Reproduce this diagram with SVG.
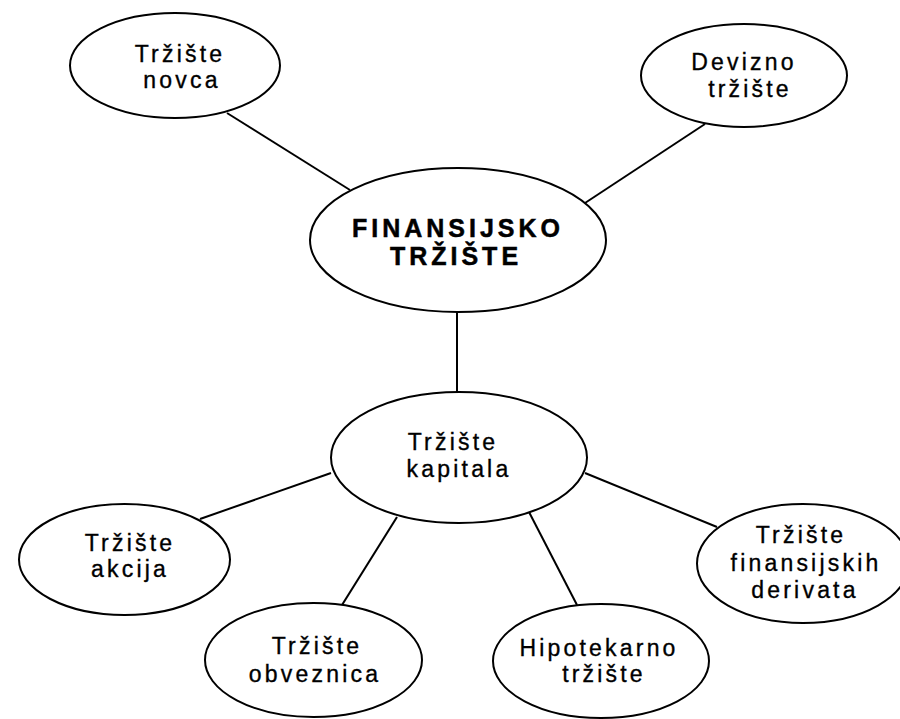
<svg xmlns="http://www.w3.org/2000/svg" width="900" height="719" viewBox="0 0 900 719">
<style>
.n ellipse{fill:#fff;stroke:#000;stroke-width:2}
.c line{stroke:#000;stroke-width:2}
text{font-family:"Liberation Sans",Arial,sans-serif;font-size:23px;fill:#000;stroke:#000;stroke-width:0.35;text-anchor:middle;letter-spacing:3.2px}
.b{font-size:25px;font-weight:bold;letter-spacing:4px;stroke-width:0.5}
</style>
<rect width="900" height="719" fill="#fff"/>
<g id="connectors" class="c">
<line x1="227" y1="113" x2="350" y2="190"/>
<line x1="705" y1="124" x2="585" y2="203"/>
<line x1="457" y1="312" x2="457" y2="393"/>
<line x1="331" y1="473" x2="200" y2="519"/>
<line x1="397" y1="517" x2="342" y2="605"/>
<line x1="529" y1="512" x2="577" y2="605"/>
<line x1="585" y1="473" x2="717" y2="527"/>
</g>
<g id="trziste-novca" class="n">
<ellipse cx="175" cy="65.5" rx="105" ry="52.5"/>
<text x="180" y="62">Tržište</text>
<text x="182" y="88">novca</text>
</g>
<g id="devizno-trziste" class="n">
<ellipse cx="744" cy="75.5" rx="103" ry="51.5"/>
<text x="744" y="70">Devizno</text>
<text x="750" y="97">tržište</text>
</g>
<g id="finansijsko-trziste" class="n">
<ellipse cx="458" cy="240" rx="148" ry="72"/>
<text class="b" x="458" y="237">FINANSIJSKO</text>
<text class="b" x="456" y="265">TRŽIŠTE</text>
</g>
<g id="trziste-kapitala" class="n">
<ellipse cx="459" cy="457.5" rx="128" ry="65.5"/>
<text x="453" y="450">Tržište</text>
<text x="459" y="477">kapitala</text>
</g>
<g id="trziste-akcija" class="n">
<ellipse cx="124.5" cy="559.5" rx="105.5" ry="55.5"/>
<text x="130" y="551">Tržište</text>
<text x="130" y="577">akcija</text>
</g>
<g id="trziste-obveznica" class="n">
<ellipse cx="313.5" cy="660" rx="108.5" ry="57"/>
<text x="317" y="654">Tržište</text>
<text x="315" y="682">obveznica</text>
</g>
<g id="hipotekarno-trziste" class="n">
<ellipse cx="601" cy="661" rx="108" ry="57"/>
<text x="599" y="656">Hipotekarno</text>
<text x="604" y="682">tržište</text>
</g>
<g id="trziste-finansijskih-derivata" class="n">
<ellipse cx="803" cy="563.5" rx="106" ry="59.5"/>
<text x="801" y="543">Tržište</text>
<text x="806" y="571">finansijskih</text>
<text x="805" y="598">derivata</text>
</g>
</svg>
